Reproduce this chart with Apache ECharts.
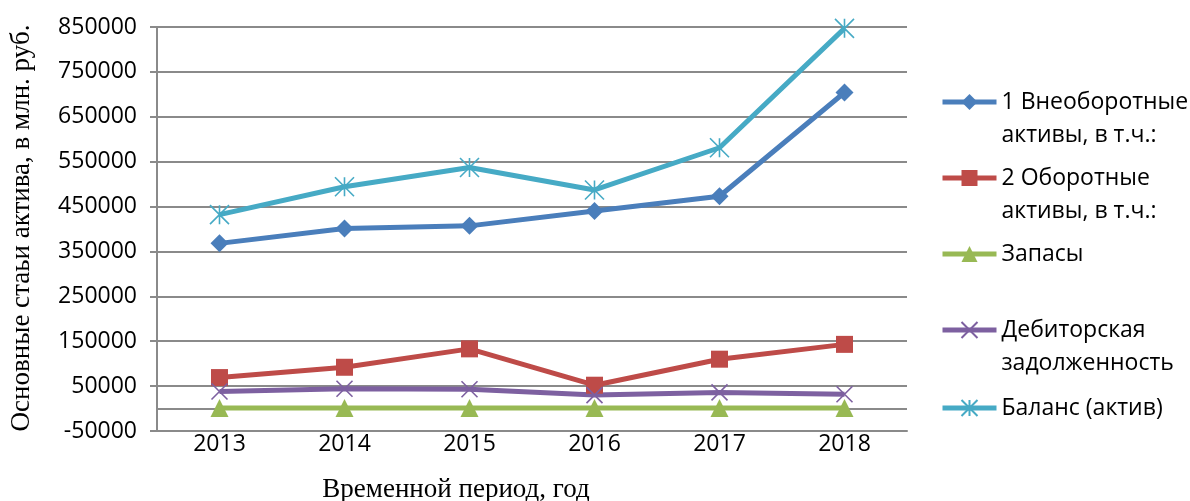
<!DOCTYPE html>
<html>
<head>
<meta charset="utf-8">
<script src="https://cdn.jsdelivr.net/npm/echarts@6/dist/echarts.min.js"></script>
<style>
  html, body { margin: 0; padding: 0; background: #fff; }
  #chart { width: 1190px; height: 501px; }
</style>
</head>
<body>
<div id="chart"></div>
<script>
// Years on the category axis
const years = ['2013', '2014', '2015', '2016', '2017', '2018'];

// Balance sheet asset items, mln rub.
const nonCurrentAssets = [368000, 401000, 407000, 440000, 473000, 704000];
const currentAssets = [69000, 92000, 133000, 52000, 110000, 143000];
const inventories = [1400, 1500, 1300, 1200, 1400, 1500];
const receivables = [38000, 44000, 43000, 30000, 36000, 32000];
const balanceTotal = [432000, 494000, 537000, 487000, 581000, 847000];

// Series names and how they wrap in the legend
const seriesNames = [
  '1 Внеоборотные активы, в т.ч.:',
  '2 Оборотные активы, в т.ч.:',
  'Запасы',
  'Дебиторская задолженность',
  'Баланс (актив)'
];
const legendLines = [
  ['1 Внеоборотные', 'активы, в т.ч.:'],
  ['2 Оборотные', 'активы, в т.ч.:'],
  ['Запасы'],
  ['Дебиторская', 'задолженность'],
  ['Баланс (актив)']
];

// Value axis ticks
const yMin = -50000;
const yMax = 850000;
const yStep = 100000;

const axisTitleY = 'Основные стаьи актива, в млн. руб.';
const axisTitleX = 'Временной период, год';

const colors = ['#4A7EBB', '#BE4B48', '#98B954', '#7D60A0', '#46AAC5'];
const gridGray = '#8a8a8a';
const sansFont = '"Open Sans", "DejaVu Sans", sans-serif';
const serifFont = '"Liberation Serif", "DejaVu Serif", serif';

const crossPath = 'path://M0,0L10,10M10,0L0,10';
const starPath = 'path://M5,0L5,10M0,0L10,10M10,0L0,10';

function lineSeries(i, data, symbol, size, stroked) {
  const s = {
    name: seriesNames[i],
    type: 'line',
    data: data,
    symbol: symbol,
    symbolSize: size,
    showAllSymbol: true,
    lineStyle: { color: colors[i], width: 5 },
    itemStyle: { color: colors[i] },
    emphasis: { disabled: true },
    z: 3
  };
  if (stroked) {
    s.itemStyle = { color: colors[i], borderColor: colors[i], borderWidth: 1.6 };
  }
  return s;
}

// One legend block per series; wrapped names get a blank lead line so
// the icon lines up with the first line of text.
const lineH = 33;
const legendIconY = [102, 178, 254, 330, 408];
const legends = legendLines.map(function (lines, i) {
  const text = lines.length === 2 ? ' \n' + lines.join('\n') : lines[0];
  const h = lines.length === 2 ? lineH * 3 : lineH;
  return {
    show: true,
    left: 940,
    top: legendIconY[i] - h / 2,
    padding: 0,
    itemWidth: 54,
    itemHeight: 20,
    selectedMode: false,
    data: [seriesNames[i]],
    formatter: function () { return text; },
    lineStyle: { width: 5 },
    textStyle: {
      fontFamily: sansFont,
      fontSize: 23,
      lineHeight: lineH,
      color: '#000'
    }
  };
});

const chart = echarts.init(document.getElementById('chart'), null, { renderer: 'canvas' });
chart.setOption({
  backgroundColor: '#ffffff',
  animation: false,
  grid: { left: 157, right: 283, top: 27, bottom: 70, containLabel: false },
  legend: legends,
  xAxis: {
    type: 'category',
    data: years,
    boundaryGap: true,
    axisLine: { onZero: false, lineStyle: { color: gridGray, width: 2 } },
    axisTick: { show: false },
    axisLabel: { color: '#000', fontFamily: sansFont, fontSize: 23, margin: 2 },
    splitLine: { show: false }
  },
  yAxis: {
    type: 'value',
    min: yMin,
    max: yMax,
    interval: yStep,
    axisLine: { show: true, lineStyle: { color: gridGray, width: 2 } },
    axisTick: { show: true, length: 7, lineStyle: { color: gridGray, width: 2 } },
    axisLabel: {
      color: '#000', fontFamily: sansFont, fontSize: 23, margin: 20,
      formatter: function (v) { return String(v); }
    },
    splitLine: { show: true, lineStyle: { color: gridGray, width: 2 } }
  },
  graphic: [
    {
      type: 'text',
      x: 22,
      y: 228,
      rotation: Math.PI / 2,
      style: {
        text: axisTitleY,
        fontFamily: serifFont,
        fontSize: 27,
        fill: '#000',
        align: 'center',
        verticalAlign: 'middle'
      }
    },
    {
      type: 'text',
      x: 456,
      y: 490,
      style: {
        text: axisTitleX,
        fontFamily: serifFont,
        fontSize: 27,
        fill: '#000',
        align: 'center',
        verticalAlign: 'middle'
      }
    }
  ],
  series: [
    Object.assign(lineSeries(2, inventories, 'triangle', 18, false), {
      markLine: {
        silent: true,
        symbol: 'none',
        label: { show: false },
        lineStyle: { color: gridGray, width: 2, type: 'solid' },
        data: [{ yAxis: 0 }],
        z: 1
      }
    }),
    lineSeries(0, nonCurrentAssets, 'diamond', 18, false),
    lineSeries(1, currentAssets, 'rect', 17, false),
    lineSeries(3, receivables, crossPath, 16, true),
    lineSeries(4, balanceTotal, starPath, 19, true)
  ]
});
</script>
</body>
</html>
